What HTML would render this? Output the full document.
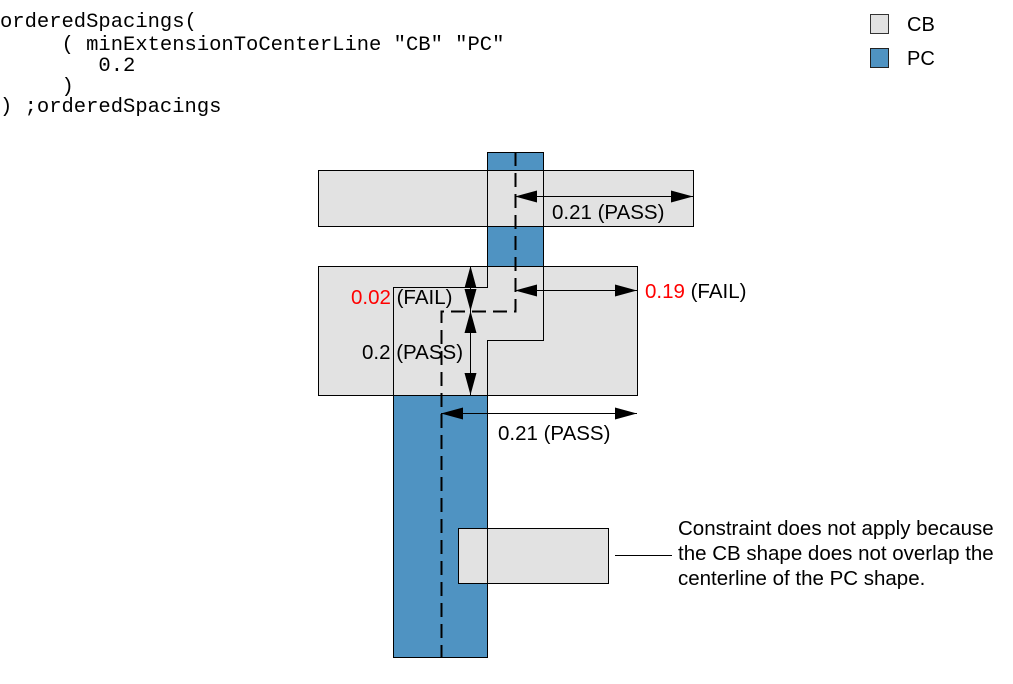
<!DOCTYPE html>
<html><head><meta charset="utf-8"><style>
html,body{margin:0;padding:0;background:#fff;}
svg{display:block}
</style></head><body>
<svg width="1013" height="684" xmlns="http://www.w3.org/2000/svg">
<defs>
<marker id="a" viewBox="0 0 22 12" refX="22" refY="6" markerWidth="22" markerHeight="12" markerUnits="userSpaceOnUse" orient="auto-start-reverse"><path d="M0,0L22,6L0,12z" fill="#000"/></marker>
</defs>
<g font-family="Liberation Mono, monospace" font-size="20.5" fill="#000">
<text x="0" y="27">orderedSpacings(</text>
<text x="0" y="50" xml:space="preserve">     ( minExtensionToCenterLine "CB" "PC"</text>
<text x="0" y="71" xml:space="preserve">        0.2</text>
<text x="0" y="92" xml:space="preserve">     )</text>
<text x="0" y="112" xml:space="preserve">) ;orderedSpacings</text>
</g>
<g font-family="Liberation Sans, sans-serif" font-size="20">
<rect x="870.5" y="14.5" width="18" height="19" fill="#e2e2e2" stroke="#333"/>
<rect x="870.5" y="48.5" width="18" height="19" fill="#4f93c2" stroke="#222"/>
<text x="907" y="31">CB</text>
<text x="907" y="65">PC</text>
</g>
<g stroke="#000" stroke-width="1">
<rect x="487.5" y="152.5" width="56" height="114" fill="#4f93c2"/>
<rect x="393.5" y="395.5" width="94" height="262" fill="#4f93c2"/>
<rect x="318.5" y="170.5" width="375" height="56" fill="#e2e2e2"/>
<line x1="487.5" y1="170" x2="487.5" y2="226"/>
<line x1="543.5" y1="170" x2="543.5" y2="226"/>
<rect x="318.5" y="266.5" width="319" height="129" fill="#e2e2e2"/>
<polyline points="487.5,266 487.5,287.5 393.5,287.5 393.5,395" fill="none"/>
<polyline points="543.5,266 543.5,340.5 487.5,340.5 487.5,395" fill="none"/>
<rect x="458.5" y="528.5" width="150" height="55" fill="#e2e2e2"/>
<line x1="487.5" y1="528" x2="487.5" y2="583"/>
<polyline points="515.5,152 515.5,311.5 441.5,311.5 441.5,657" fill="none" stroke-width="2" stroke-dasharray="14,7"/>
<line x1="515" y1="196.5" x2="693" y2="196.5" marker-start="url(#a)" marker-end="url(#a)"/>
<line x1="515" y1="290.5" x2="637" y2="290.5" marker-start="url(#a)" marker-end="url(#a)"/>
<line x1="470.5" y1="266" x2="470.5" y2="311" marker-start="url(#a)" marker-end="url(#a)"/>
<line x1="470.5" y1="311" x2="470.5" y2="395" marker-start="url(#a)" marker-end="url(#a)"/>
<line x1="441" y1="413.5" x2="637" y2="413.5" marker-start="url(#a)" marker-end="url(#a)"/>
<line x1="615" y1="555.5" x2="672" y2="555.5"/>
</g>
<g font-family="Liberation Sans, sans-serif" font-size="20.5" fill="#000">
<text x="552" y="219">0.21 (PASS)</text>
<text x="645" y="298"><tspan fill="#f00">0.19</tspan> (FAIL)</text>
<text x="351" y="304"><tspan fill="#f00">0.02</tspan> (FAIL)</text>
<text x="362" y="359">0.2 (PASS)</text>
<text x="498" y="440">0.21 (PASS)</text>
<text x="678" y="535">Constraint does not apply because</text>
<text x="678" y="560">the CB shape does not overlap the</text>
<text x="678" y="585">centerline of the PC shape.</text>
</g>
</svg>
</body></html>
